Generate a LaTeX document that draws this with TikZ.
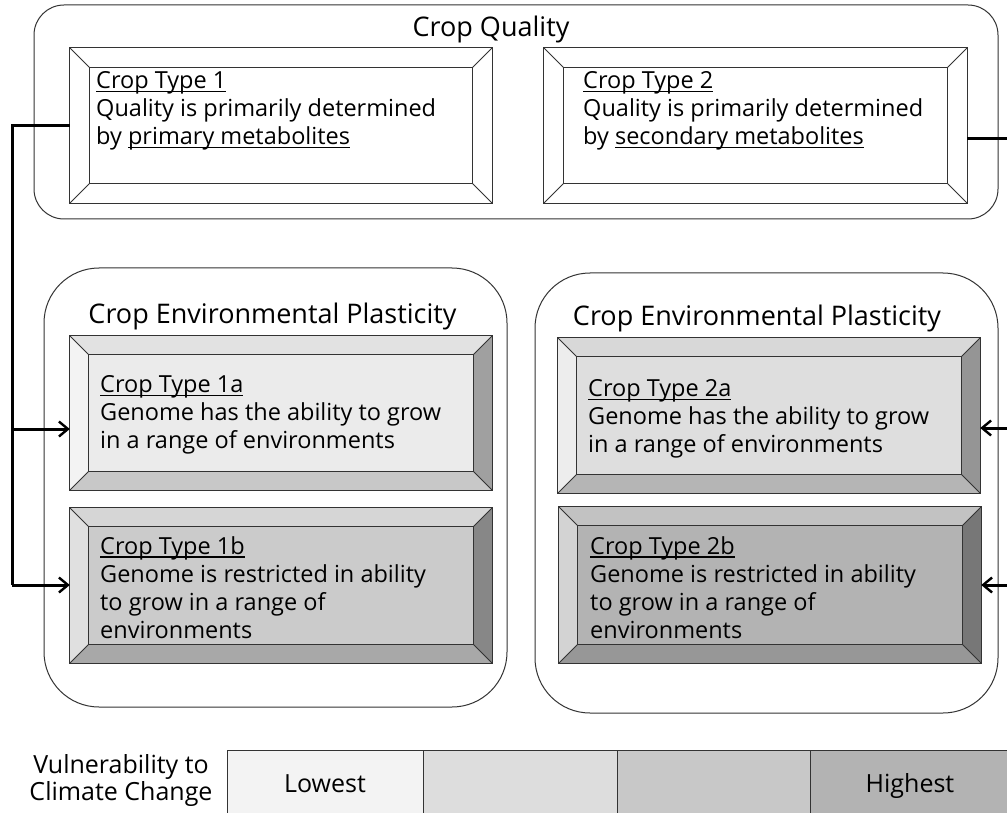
\documentclass[tikz,border=0pt]{standalone}
\usepackage{fontspec}
\setmainfont{Open Sans}
\usetikzlibrary{arrows.meta}
\definecolor{edgec}{HTML}{333333}
\definecolor{aface}{HTML}{EBEBEB}\definecolor{atop}{HTML}{E2E2E2}\definecolor{aleft}{HTML}{F3F3F3}\definecolor{aright}{HTML}{A0A0A0}\definecolor{abot}{HTML}{C8C8C8}
\definecolor{bface}{HTML}{CBCBCB}\definecolor{btop}{HTML}{D6D6D6}\definecolor{bleft}{HTML}{E0E0E0}\definecolor{bright}{HTML}{878787}\definecolor{bbot}{HTML}{A8A8A8}
\definecolor{cface}{HTML}{DEDEDE}\definecolor{ctop}{HTML}{D8D8D8}\definecolor{cleft}{HTML}{EDEDED}\definecolor{cright}{HTML}{959595}\definecolor{cbot}{HTML}{B5B5B5}
\definecolor{dface}{HTML}{B3B3B3}\definecolor{dtop}{HTML}{C2C2C2}\definecolor{dleft}{HTML}{D3D3D3}\definecolor{dright}{HTML}{777777}\definecolor{dbot}{HTML}{979797}
\definecolor{bar1}{HTML}{F3F3F3}\definecolor{bar2}{HTML}{DDDDDD}\definecolor{bar3}{HTML}{C8C8C8}\definecolor{bar4}{HTML}{B3B3B3}
\newcommand\myul[1]{\setbox0\hbox{#1}\rlap{\rule[-3.5pt]{\wd0}{1.2pt}}\box0}
\newcommand\bevelize[6]{%
  \fill[#3] (#1.north west) -- (#1.north east) -- ([shift={(-#2,#2)}]#1.north east) -- ([shift={(#2,#2)}]#1.north west) -- cycle;
  \fill[#4] (#1.north west) -- ([shift={(#2,#2)}]#1.north west) -- ([shift={(#2,-#2)}]#1.south west) -- (#1.south west) -- cycle;
  \fill[#5] (#1.north east) -- ([shift={(-#2,#2)}]#1.north east) -- ([shift={(-#2,-#2)}]#1.south east) -- (#1.south east) -- cycle;
  \fill[#6] (#1.south west) -- ([shift={(#2,-#2)}]#1.south west) -- ([shift={(-#2,-#2)}]#1.south east) -- (#1.south east) -- cycle;
  \draw[edge] ([shift={(#2,#2)}]#1.north west) rectangle ([shift={(-#2,-#2)}]#1.south east);
  \draw[edge] (#1.north west) -- ([shift={(#2,#2)}]#1.north west);
  \draw[edge] (#1.north east) -- ([shift={(-#2,#2)}]#1.north east);
  \draw[edge] (#1.south west) -- ([shift={(#2,-#2)}]#1.south west);
  \draw[edge] (#1.south east) -- ([shift={(-#2,-#2)}]#1.south east);
  \draw[edge] (#1.north west) rectangle (#1.south east);
}
\tikzset{
  edge/.style={draw=edgec, line width=1pt},
  group/.style={draw=edgec, line width=1pt, fill=white},
  bbox/.style={inner sep=0pt, fill=white},
  body/.style={anchor=north west, align=left, inner sep=0pt, font=\fontsize{23.5}{28}\selectfont},
  title/.style={inner sep=0pt, anchor=base, font=\fontsize{27}{30}\selectfont},
  conn/.style={draw=black, line width=3pt},
  arr/.style={conn, -{Straight Barb[length=9pt,width=15pt,line width=2.4pt]}},
  cell/.style={draw=edgec, line width=1pt, inner sep=0pt, anchor=north west, minimum height=70pt},
  lab/.style={inner sep=0pt, font=\fontsize{25}{27}\selectfont},
}
\begin{document}
\begin{tikzpicture}[x=1pt,y=-1pt]
\clip (0,0) rectangle (1007,813);
\fill[white] (0,0) rectangle (1007,813);
% group boxes
\draw[group, rounded corners=30pt] (34,5) rectangle (998,219);
\node[title] (qt) at (491,37) {Crop Quality};
\draw[group, rounded corners=55pt] (44,268) rectangle (507,707);
\node[title] (pl) at (272.5,323) {Crop Environmental Plasticity};
\draw[group, rounded corners=55pt] (535,273) rectangle (998,713);
\node[title] (pr) at (757,325) {Crop Environmental Plasticity};
% top bevel boxes
\node[bbox, minimum width=422pt, minimum height=155pt] (t1) at (281,125.5) {};
\bevelize{t1}{20}{white}{white}{white}{white}
\node[body] (t1x) at (96,71) {\myul{Crop Type 1}\\Quality is primarily determined\\by \myul{primary metabolites}};
\node[bbox, minimum width=423pt, minimum height=155pt] (t2) at (755.5,125.5) {};
\bevelize{t2}{20}{white}{white}{white}{white}
\node[body] (t2x) at (583,71) {\myul{Crop Type 2}\\Quality is primarily determined\\by \myul{secondary metabolites}};
% plasticity boxes
\node[bbox, fill=aface, minimum width=422pt, minimum height=154pt] (a1) at (281,413) {};
\bevelize{a1}{19}{atop}{aleft}{aright}{abot}
\node[body] (a1x) at (100,375) {\myul{Crop Type 1a}\\Genome has the ability to grow\\in a range of environments};
\node[bbox, fill=bface, minimum width=422pt, minimum height=155pt] (b1) at (281,585.5) {};
\bevelize{b1}{19}{btop}{bleft}{bright}{bbot}
\node[body] (b1x) at (100,536) {\myul{Crop Type 1b}\\Genome is restricted in ability\\to grow in a range of\\environments};
\node[bbox, fill=cface, minimum width=422pt, minimum height=155pt] (a2) at (769,415.5) {};
\bevelize{a2}{19}{ctop}{cleft}{cright}{cbot}
\node[body] (a2x) at (588,379) {\myul{Crop Type 2a}\\Genome has the ability to grow\\in a range of environments};
\node[bbox, fill=dface, minimum width=422pt, minimum height=156pt] (b2) at (770,585) {};
\bevelize{b2}{19}{dtop}{dleft}{dright}{dbot}
\node[body] (b2x) at (590,536) {\myul{Crop Type 2b}\\Genome is restricted in ability\\to grow in a range of\\environments};
% connectors
\coordinate (lt) at (12,126);
\coordinate (la) at (12,429);
\coordinate (lb) at (12,585);
\coordinate (rs) at ([yshift=-13.5pt]t2.east);
\coordinate (rt) at (1020,139);
\coordinate (ra) at (1020,428);
\coordinate (rb) at (1020,585);
\draw[conn] (t1.west |- lt) -- (lt) -- (lb);
\draw[arr] (la) -- (a1.west |- la);
\draw[arr] (lb) -- (b1.west |- lb);
\draw[conn] (rs) -- (rt) -- (rb);
\draw[arr] (ra) -- (a2.east |- ra);
\draw[arr] (rb) -- (b2.east |- rb);
% vulnerability bar
\node[lab, align=center, anchor=north] (vl) at (121,754) {Vulnerability to\\Climate Change};
\node[cell, fill=bar1, minimum width=196pt] (c1) at (227,750) {};
\node[cell, fill=bar2, minimum width=194pt] (c2) at (423,750) {};
\node[cell, fill=bar3, minimum width=193pt] (c3) at (617,750) {};
\node[cell, fill=bar4, minimum width=210pt] (c4) at (810,750) {};
\node[lab, anchor=base] (lo) at (325,792) {Lowest};
\node[lab, anchor=base] (hi) at (910,792) {Highest};
\end{tikzpicture}
\end{document}
